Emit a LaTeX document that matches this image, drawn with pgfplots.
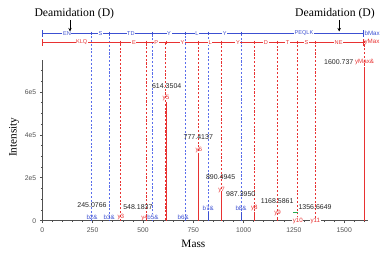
\documentclass[border=0pt]{standalone}
\usepackage{fontspec}
\setmainfont{Liberation Serif}
\newfontfamily\sansf{Liberation Sans}
\usepackage{pgfplots}
\pgfplotsset{compat=1.18}
\usetikzlibrary{arrows.meta,decorations.markings}
\definecolor{ionblue}{RGB}{60,80,210}
\definecolor{guideblue}{RGB}{90,110,235}
\definecolor{ionred}{RGB}{232,50,50}
\definecolor{axgray}{RGB}{80,80,80}
\definecolor{mkgreen}{RGB}{40,170,80}
\newcommand{\pk}[1]{{\sansf\fontsize{7}{8}\selectfont #1}}
\newcommand{\ion}[1]{{\sansf\fontsize{6.2}{7}\selectfont #1}}
\newcommand{\lad}[1]{{\sansf\fontsize{5.6}{6}\selectfont #1}}
\tikzset{guide/.style={postaction={decorate, decoration={markings, mark=between positions 0 and 1 step 3.8pt with {\draw[draw=#1, line width=1pt] (0,0) -- (2.1pt,0);}}}}}
\begin{document}
\begin{tikzpicture}
\begin{axis}[
  scale only axis,
  width=325.7pt, height=160.7pt,
  xmin=0, xmax=1618, ymin=0, ymax=749000,
  clip=false,
  axis lines*=left,
  axis line style={axgray, line width=1.1pt},
  tick align=outside,
  tick style={axgray, line width=0.6pt},
  major tick length=2.5pt, minor tick length=1.5pt,
  xtick={0,250,500,750,1000,1250,1500},
  xticklabels={0,250,500,750,1000,1250,1500},
  minor xtick={50,100,...,1600},
  ytick={0,200000,400000,600000},
  yticklabels={0,2e5,4e5,6e5},
  minor ytick={50000,100000,...,700000},
  scaled y ticks=false,
  ticklabel style={font=\sansf\fontsize{6.8}{7}\selectfont, text=axgray},
  xticklabel style={yshift=-1pt},
  xlabel={Mass}, ylabel={Intensity},
  xlabel style={at={([yshift=-23.3pt]axis description cs:0.464,0)}, anchor=center, font=\fontsize{11.3}{12}\selectfont},
  ylabel style={at={([xshift=-28.3pt]axis description cs:0,0.52)}, anchor=center, font=\fontsize{11.3}{12}\selectfont},
]
% dashed fragment guide lines
\addplot[ycomb, draw=none, guide=ionred] coordinates {
 (388.25,830800) (517.29,830800) (614.35,830800) (777.41,830800) (890.49,830800)
 (1053.56,830800) (1168.59,830800) (1269.63,830800) (1356.67,830800) (1600.74,830800)};
\addplot[ycomb, draw=none, guide=guideblue] coordinates {
 (245.08,872700) (332.11,872700) (548.18,872700) (711.25,872700) (824.33,872700) (987.40,872700)};
% peaks
\addplot[draw=ionblue, ycomb, line width=0.9pt] coordinates {
 (245.08,5000) (332.11,5000) (548.18,6000) (711.25,5000) (824.33,42000) (987.40,42000)};
\addplot[draw=ionred, ycomb, line width=0.9pt] coordinates {
 (388.25,5000) (517.29,4000) (614.35,553000) (777.41,316000) (890.49,128000)
 (1053.56,42000) (1168.59,18600) (1269.63,3000) (1356.67,4000) (1600.74,717000)};
\addplot[mkgreen, only marks, mark=-, mark size=2.5pt, mark options={line width=1.2pt}] coordinates {(1258,38200)};
% ladders
\addplot[ionblue, line width=0.8pt, mark=|, mark size=1.8pt] coordinates {
 (0,872700) (245.08,872700) (332.11,872700) (548.18,872700) (711.25,872700) (824.33,872700) (987.40,872700) (1593,872700)};
\addplot[ionblue, only marks, mark=|, mark size=3.3pt, mark options={line width=0.8pt}] coordinates {(0,872700) (1593,872700)};
\addplot[ionred, line width=0.8pt, mark=|, mark size=1.8pt] coordinates {
 (0,830800) (388.25,830800) (517.29,830800) (614.35,830800) (777.41,830800) (890.49,830800)
 (1053.56,830800) (1168.59,830800) (1269.63,830800) (1356.67,830800) (1593,830800)};
\addplot[ionred, only marks, mark=|, mark size=3.3pt, mark options={line width=0.8pt}] coordinates {(0,830800) (1593,830800)};
% ladder labels
\begin{scope}[every node/.style={fill=white, inner sep=0.6pt, text=ionblue}]
\node at (axis cs:122.5,872700) {\lad{EN}};
\node at (axis cs:288.6,872700) {\lad{S}};
\node at (axis cs:440.1,872700) {\lad{TD}};
\node at (axis cs:629.7,872700) {\lad{Y}};
\node at (axis cs:767.8,872700) {\lad{L}};
\node at (axis cs:905.9,872700) {\lad{Y}};
\node at (axis cs:1300,872700) {\lad{PEQLK}};
\end{scope}
\begin{scope}[every node/.style={fill=white, inner sep=0.6pt, text=ionred}]
\node at (axis cs:196,830800) {\lad{KLQ}};
\node at (axis cs:455,830800) {\lad{E}};
\node at (axis cs:566,830800) {\lad{P}};
\node at (axis cs:696,830800) {\lad{Y}};
\node at (axis cs:834,830800) {\lad{L}};
\node at (axis cs:972,830800) {\lad{Y}};
\node at (axis cs:1111,830800) {\lad{D}};
\node at (axis cs:1219,830800) {\lad{T}};
\node at (axis cs:1313,830800) {\lad{S}};
\node at (axis cs:1472,830800) {\lad{NE}};
\end{scope}
\node[anchor=west, inner sep=0pt, text=ionblue] at (axis cs:1600,872700) {\ion{bMax}};
\node[anchor=west, inner sep=0pt, text=ionred] at (axis cs:1600,830800) {\ion{yMax}};
% deamidation annotations
\node at (axis cs:159,963600) {\fontsize{11.7}{12}\selectfont Deamidation (D)};
\node at (axis cs:1454,963600) {\fontsize{11.7}{12}\selectfont Deamidation (D)};
\draw[-{Stealth[length=3.5pt,width=3.5pt]}, line width=0.8pt] (axis cs:137.6,936000) -- (axis cs:137.6,882000);
\draw[-{Stealth[length=3.5pt,width=3.5pt]}, line width=0.8pt] (axis cs:1475,936000) -- (axis cs:1475,882000);
% peak m/z labels
\begin{scope}[every node/.style={inner sep=0pt, text=black!85}]
\node at (axis cs:247,73200) {\pk{245.0766}};
\node at (axis cs:475,63900) {\pk{548.1837}};
\node at (axis cs:618,628000) {\pk{614.3504}};
\node at (axis cs:775,391600) {\pk{777.4137}};
\node at (axis cs:886,205100) {\pk{890.4945}};
\node at (axis cs:986,123100) {\pk{987.3950}};
\node at (axis cs:1167,93200) {\pk{1168.5861}};
\node at (axis cs:1355,65300) {\pk{1356.6649}};
\node[anchor=east] at (axis cs:1546,741300) {\pk{1600.737}};
\end{scope}
% ion labels
\begin{scope}[every node/.style={inner sep=0.4pt}]
\node[text=ionred] at (axis cs:508,12600) {\ion{y4}};
\node[text=ionblue] at (axis cs:247,17200) {\ion{b2\&}};
\node[text=ionblue] at (axis cs:332,17200) {\ion{b3\&}};
\node[text=ionred] at (axis cs:390,17200) {\ion{y3}};
\node[text=ionblue, fill=white] at (axis cs:550,17200) {\ion{b5\&}};
\node[text=ionblue] at (axis cs:700,17200) {\ion{b6\&}};
\node[text=ionred] at (axis cs:614.35,569700) {\ion{y5}};
\node[text=ionred] at (axis cs:777.41,329600) {\ion{y6}};
\node[text=ionblue] at (axis cs:824.33,59200) {\ion{b7\&}};
\node[text=ionred] at (axis cs:890.49,143100) {\ion{y7}};
\node[text=ionblue] at (axis cs:987.40,59200) {\ion{b8\&}};
\node[text=ionred] at (axis cs:1053.56,59200) {\ion{y8}};
\node[text=ionred] at (axis cs:1168.59,35900) {\ion{y9}};
\node[text=ionred, fill=white] at (axis cs:1269.63,0) {\ion{y10}};
\node[text=ionred, fill=white] at (axis cs:1356.67,0) {\ion{y11}};
\node[text=ionred] at (axis cs:1600.74,741300) {\ion{yMax\&}};
\end{scope}
\end{axis}
\path (current axis.south west) ++(-42.3pt,-33.3pt) rectangle ++(392pt,254pt);
\end{tikzpicture}
\end{document}
